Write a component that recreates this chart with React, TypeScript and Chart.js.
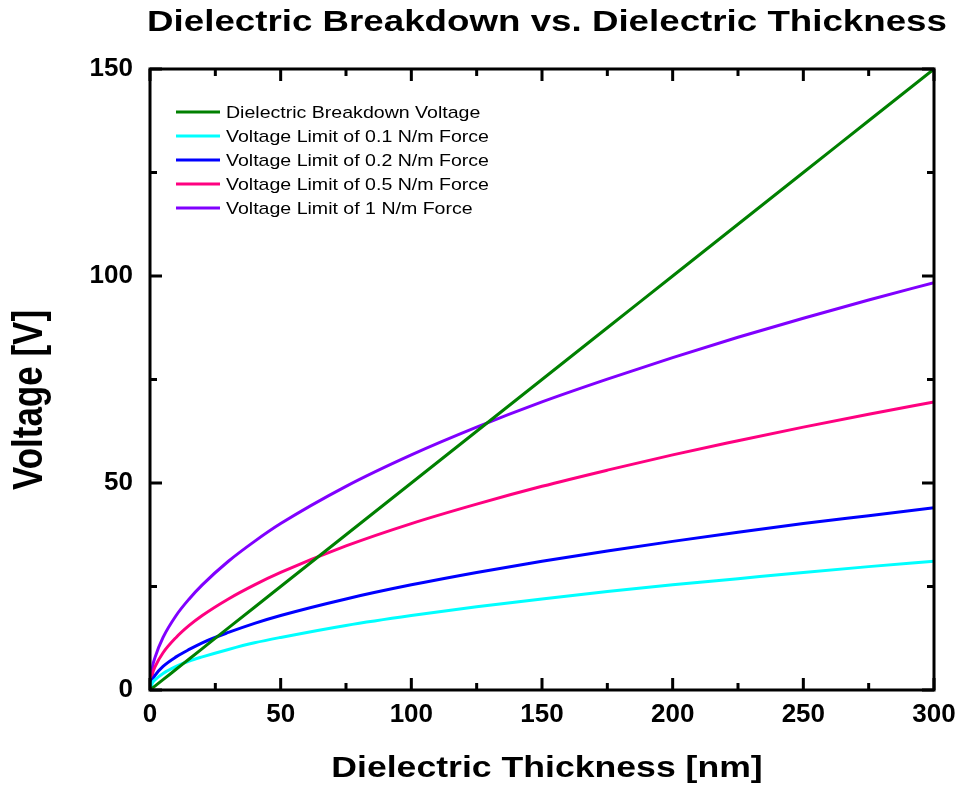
import React, { useEffect, useRef } from "react";
import { Chart, registerables } from "chart.js";

Chart.register(...registerables);

// ---- data ----
const thickness = [0, 1, 2, 5, 10, 15, 20, 30, 40, 50, 75, 100, 125, 150, 175, 200, 225, 250, 275, 300];
const breakdownVoltage = [0, 0.5, 1, 2.5, 5, 7.5, 10, 15, 20, 25, 37.5, 50, 62.5, 75, 87.5, 100, 112.5, 125, 137.5, 150];
const limit01 = [0, 1.8, 2.5, 4.0, 5.7, 7.0, 8.0, 9.8, 11.4, 12.7, 15.6, 18.0, 20.1, 22.0, 23.8, 25.4, 26.9, 28.4, 29.8, 31.1];
const limit02 = [0, 2.5, 3.6, 5.7, 8.0, 9.8, 11.4, 13.9, 16.1, 18.0, 22.0, 25.4, 28.4, 31.1, 33.6, 35.9, 38.1, 40.2, 42.1, 44.0];
const limit05 = [0, 4.0, 5.7, 9.0, 12.7, 15.6, 18.0, 22.0, 25.4, 28.4, 34.8, 40.2, 44.9, 49.2, 53.1, 56.8, 60.2, 63.5, 66.6, 69.6];
const limit1 = [0, 5.7, 8.0, 12.7, 18.0, 22.0, 25.4, 31.1, 35.9, 40.2, 49.2, 56.8, 63.5, 69.6, 75.1, 80.3, 85.2, 89.8, 94.2, 98.4];

const seriesLabels = [
  "Dielectric Breakdown Voltage",
  "Voltage Limit of 0.1 N/m Force",
  "Voltage Limit of 0.2 N/m Force",
  "Voltage Limit of 0.5 N/m Force",
  "Voltage Limit of 1 N/m Force",
];
const seriesColors = ["#008000", "#00FFFF", "#0000FF", "#FF0080", "#8000FF"];

const xMajorTicks = [0, 50, 100, 150, 200, 250, 300];
const xMinorTicks = [25, 75, 125, 175, 225, 275];
const yMajorTicks = [0, 50, 100, 150];
const yMinorTicks = [25, 75, 125];

const chartTitle = "Dielectric Breakdown vs. Dielectric Thickness";
const xTitle = "Dielectric Thickness [nm]";
const yTitle = "Voltage [V]";

const FONT = "'Liberation Sans', Arial, Helvetica, sans-serif";

function pts(ys: number[]) {
  return thickness.map((x, i) => ({ x, y: ys[i] }));
}

function drawStretched(
  ctx: CanvasRenderingContext2D,
  text: string,
  x: number,
  y: number,
  font: string,
  sx: number,
  sy: number,
  align: CanvasTextAlign,
  rotate = 0
) {
  ctx.save();
  ctx.translate(x, y);
  if (rotate) ctx.rotate(rotate);
  ctx.scale(sx, sy);
  ctx.font = font;
  ctx.textAlign = align;
  ctx.textBaseline = "alphabetic";
  ctx.fillStyle = "#000";
  ctx.fillText(text, 0, 0);
  ctx.restore();
}

const framePlugin = {
  id: "framePlugin",
  afterDraw(chart: any) {
    const ctx: CanvasRenderingContext2D = chart.ctx;
    const ca = chart.chartArea;
    const xs = chart.scales.x;
    const ys = chart.scales.y;
    ctx.save();
    ctx.strokeStyle = "#000";
    ctx.lineWidth = 3;
    ctx.lineCap = "butt";
    ctx.lineJoin = "miter";
    ctx.strokeRect(ca.left, ca.top, ca.right - ca.left, ca.bottom - ca.top);

    const tick = (vals: number[], len: number) => {
      ctx.beginPath();
      for (const v of vals) {
        const px = xs.getPixelForValue(v);
        ctx.moveTo(px, ca.bottom);
        ctx.lineTo(px, ca.bottom - len);
        ctx.moveTo(px, ca.top);
        ctx.lineTo(px, ca.top + len);
      }
      ctx.stroke();
    };
    const ytick = (vals: number[], len: number) => {
      ctx.beginPath();
      for (const v of vals) {
        const py = ys.getPixelForValue(v);
        ctx.moveTo(ca.left, py);
        ctx.lineTo(ca.left + len, py);
        ctx.moveTo(ca.right, py);
        ctx.lineTo(ca.right - len, py);
      }
      ctx.stroke();
    };
    tick(xMajorTicks, 12);
    tick(xMinorTicks, 7);
    ytick(yMajorTicks, 12);
    ytick(yMinorTicks, 7);

    // legend inside plot area
    const ds = chart.data.datasets;
    const lx0 = ca.left + 26;
    const lx1 = ca.left + 70;
    const ty = ca.top + 43;
    const rowH = 24;
    ds.forEach((d: any, i: number) => {
      const cy = ty + i * rowH;
      ctx.strokeStyle = d.borderColor;
      ctx.lineWidth = 3;
      ctx.beginPath();
      ctx.moveTo(lx0, cy);
      ctx.lineTo(lx1, cy);
      ctx.stroke();
      drawStretched(ctx, d.label, lx1 + 6, cy + 6, `17px ${FONT}`, 1.15, 1, "left");
    });

    // titles
    drawStretched(ctx, chartTitle, 547, 31, `bold 29px ${FONT}`, 1.266, 1, "center");
    drawStretched(ctx, xTitle, 547, 777, `bold 29px ${FONT}`, 1.228, 1, "center");
    drawStretched(ctx, yTitle, 42, 400, `bold 35px ${FONT}`, 1, 1.2, "center", -Math.PI / 2);
    ctx.restore();
  },
};

export default function App() {
  const ref = useRef<HTMLCanvasElement | null>(null);
  useEffect(() => {
    document.body.style.margin = "0";
    const canvas = ref.current!;
    const chart = new Chart(canvas, {
      type: "line",
      data: {
        datasets: [breakdownVoltage, limit01, limit02, limit05, limit1].map((s, i) => ({
          label: seriesLabels[i],
          data: pts(s),
          borderColor: seriesColors[i],
          backgroundColor: seriesColors[i],
          borderWidth: 3,
          pointRadius: 0,
          fill: false,
          cubicInterpolationMode: "monotone" as const,
        })),
      },
      options: {
        animation: false,
        responsive: false,
        maintainAspectRatio: false,
        layout: { padding: { top: 69, right: 26, left: 0, bottom: 0 } },
        plugins: {
          legend: { display: false },
          title: { display: false },
          tooltip: { enabled: false },
        },
        scales: {
          x: {
            type: "linear",
            min: 0,
            max: 300,
            grid: { display: false, drawTicks: false },
            border: { display: false },
            ticks: {
              stepSize: 50,
              maxRotation: 0,
              padding: 9,
              color: "#000",
              font: { family: FONT, size: 26, weight: "bold" },
            },
            afterFit: (s: any) => {
              s.height = 103;
              s.paddingLeft = 0;
              s.paddingRight = 0;
            },
          },
          y: {
            type: "linear",
            min: 0,
            max: 150,
            grid: { display: false, drawTicks: false },
            border: { display: false },
            ticks: {
              stepSize: 50,
              padding: 17,
              color: "#000",
              font: { family: FONT, size: 26, weight: "bold" },
            },
            afterFit: (s: any) => {
              s.width = 150;
              s.paddingTop = 0;
              s.paddingBottom = 0;
            },
          },
        },
      },
      plugins: [framePlugin],
    } as any);
    return () => chart.destroy();
  }, []);
  return (
    <div style={{ width: 960, height: 793, background: "#fff" }}>
      <canvas ref={ref} width={960} height={793} style={{ display: "block" }} />
    </div>
  );
}
